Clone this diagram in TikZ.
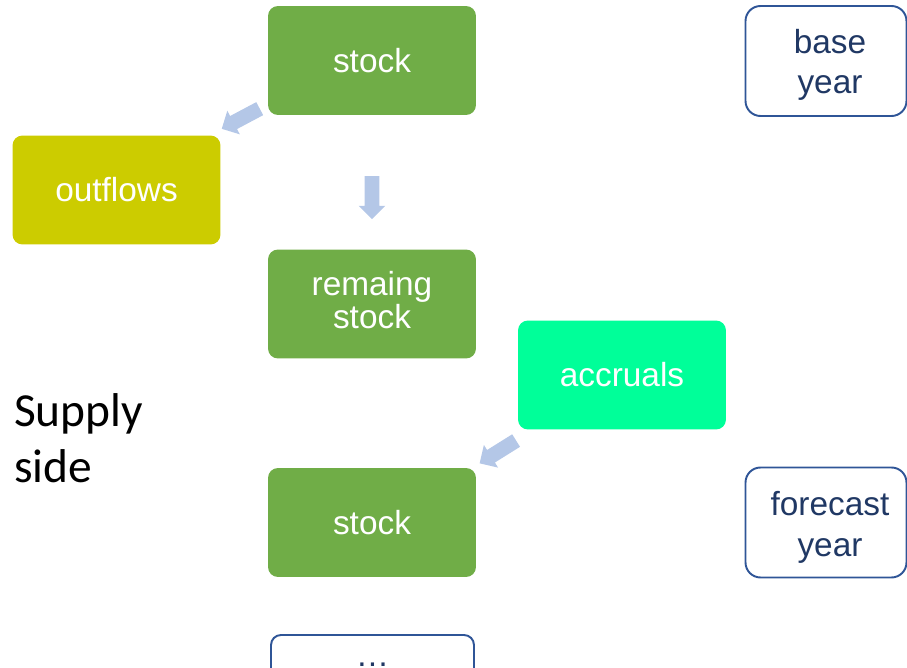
\documentclass[tikz,border=0pt]{standalone}
\usepackage{fontspec}
\setmainfont{Liberation Sans}
\newfontfamily\sidefont{Carlito}
\usetikzlibrary{shapes.arrows}
\definecolor{stockgreen}{HTML}{70AD47}
\definecolor{outflowyellow}{HTML}{CCCC00}
\definecolor{accrualgreen}{HTML}{00FF99}
\definecolor{arrowblue}{HTML}{B4C7E7}
\definecolor{frameblue}{HTML}{2F5597}
\definecolor{textblue}{HTML}{203864}

\begin{document}
\begin{tikzpicture}[x=0.02cm, y=-0.02cm,
    box/.style={rectangle, rounded corners=0.2cm, minimum width=4.16cm, minimum height=2.18cm, align=center, text=white, font=\fontsize{19}{23}\selectfont},
    yearbox/.style={rectangle, rounded corners=0.3cm, draw=frameblue, line width=1.1pt, minimum width=3.22cm, minimum height=2.2cm},
    yeartext/.style={align=center, text=textblue, font=\fontsize{19}{23}\selectfont},
    flow/.style={single arrow, fill=arrowblue, inner xsep=0pt, inner ysep=4pt, minimum height=0.86cm, single arrow head extend=0.12cm}
]
\useasboundingbox (0,0) rectangle (907,668);

\node[box, fill=stockgreen] (s1) at (372,60.5) {stock};
\node[box, fill=outflowyellow] (out) at (116.5,190) {outflows};
\node[box, fill=stockgreen] (rest) at (372,304) {\raisebox{5pt}{remaing}\\[-4pt]\raisebox{5pt}{stock}};
\node[box, fill=accrualgreen] (acc) at (622,375) {accruals};
\node[box, fill=stockgreen] (s2) at (372,522.5) {stock};

\node[yearbox] (base) at (826,61) {};
\node[yeartext] (basetext) at ([shift={(4,4)}]base.center) {base\\year};
\node[yearbox] (fore) at (826,522.5) {};
\node[yeartext] (foretext) at ([shift={(4,5)}]fore.center) {forecast\\year};

\node[rectangle, rounded corners=0.2cm, draw=frameblue, line width=1.1pt, minimum width=4.06cm, minimum height=1.2cm, text=textblue, font=\fontsize{19}{23}\selectfont] (more) at (372.5,665) {\dots};

\node[flow, rotate=208] (toout) at (244,117) {};
\node[flow, rotate=-90] (torest) at (372,194) {};
\node[flow, rotate=212] (tostock) at (501,450) {};

\node[anchor=base west, align=left, font=\sidefont\fontsize{27}{32}\selectfont] (side) at (8,483) {Supply\\side};

\end{tikzpicture}
\end{document}
